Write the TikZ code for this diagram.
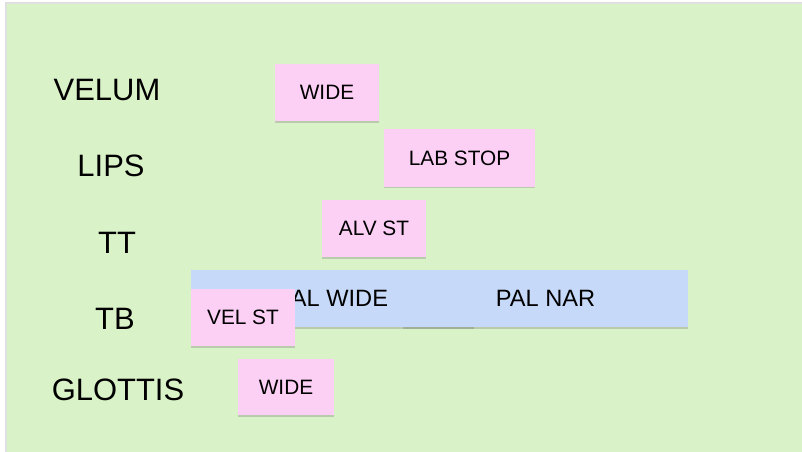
\documentclass[tikz,border=0pt]{standalone}
\usepackage{fontspec}
\setmainfont{Liberation Sans}
\usepackage{xcolor}
\usetikzlibrary{shadows}
\definecolor{GSGreen}{HTML}{DAF2C8}
\definecolor{GSPink}{HTML}{FCCFF5}
\definecolor{GSBlue}{HTML}{C6D9F9}

\tikzset{
  tier/.style={font=\fontsize{22}{24}\selectfont, inner sep=0pt},
  gesture/.style={font=\fontsize{14.8}{16}\selectfont, inner sep=0pt,
    minimum height=1.425cm,
    drop shadow={shadow xshift=0.3pt, shadow yshift=-1.2pt, opacity=0.28, fill=black!60}},
  pinkbox/.style={gesture, fill=GSPink},
  bluebox/.style={gesture, fill=GSBlue, font=\fontsize{16.8}{18}\selectfont}
}

\begin{document}
\begin{tikzpicture}[x=0.025cm,y=-0.025cm]
\path[use as bounding box] (0,0) rectangle (802,452);
\fill[white] (0,0) rectangle (802,452);
\fill[black!12] (5,2) rectangle (802,452);
\fill[GSGreen] (7,4) rectangle (802,452);

% tier names
\node[tier] (velum)   at (107,90.5) {VELUM};
\node[tier] (lips)    at (111,165.5) {LIPS};
\node[tier] (tt)      at (117,243) {TT};
\node[tier] (tb)      at (115,318.5) {TB};
\node[tier] (glottis) at (118,389.5) {GLOTTIS};

% gestures
\node[pinkbox, minimum width=2.6cm] (velwide) at (327,92.5) {WIDE};
\node[pinkbox, minimum width=3.775cm] (labstop) at (459.5,158) {LAB STOP};
\node[pinkbox, minimum width=2.6cm] (alvst) at (374,228.5) {ALV ST};
\node[bluebox, minimum width=7.075cm] (palwide) at (332.5,298.5) {PAL WIDE};
\node[bluebox, minimum width=7.125cm] (palnar) at (545.5,298.5) {PAL NAR};
\node[pinkbox, minimum width=2.6cm] (velst) at (243,317.5) {VEL ST};
\node[pinkbox, minimum width=2.4cm, minimum height=1.4cm] (glotwide) at (286,387) {WIDE};
\end{tikzpicture}
\end{document}
